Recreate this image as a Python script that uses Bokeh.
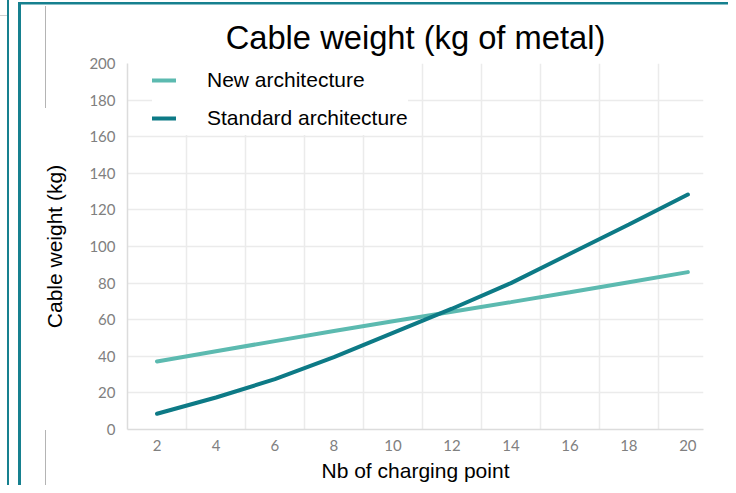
from bokeh.plotting import figure
from bokeh.models import Range1d, FixedTicker, Legend, LegendItem
from bokeh.embed import file_html
from bokeh.resources import INLINE

# ---- data ----
nb_points = [2, 4, 6, 8, 10, 12, 14, 16, 18, 20]
new_arch = [37.2, 42.8, 48.3, 53.8, 59.1, 64.3, 69.6, 75.0, 80.5, 86.0]
standard_arch = [8.6, 17.5, 27.5, 39.5, 52.8, 66.0, 80.0, 96.0, 112.0, 128.4]
x_ticks = [2, 4, 6, 8, 10, 12, 14, 16, 18, 20]
y_ticks = [0, 20, 40, 60, 80, 100, 120, 140, 160, 180, 200]
grid_x = [3, 5, 7, 9, 11, 13, 15, 17, 19]

title_text = "Cable weight (kg of metal)"
x_label = "Nb of charging point"
y_label = "Cable weight (kg)"
series_names = ["New architecture", "Standard architecture"]

NEW_COLOR = "#5cbab0"
STD_COLOR = "#0d7a86"
FRAME_COLOR = "#16808f"
TEXT_FONT = "Liberation Sans"
TICK_FONT = "Lato"

p = figure(width=728, height=485, output_backend="svg", toolbar_location=None,
           x_range=Range1d(1, 20.53), y_range=Range1d(0, 200),
           min_border_left=127, min_border_right=25,
           min_border_top=63, min_border_bottom=56)
p.outline_line_color = None
p.background_fill_color = "white"
p.border_fill_color = "white"
p.border_fill_alpha = 0.0

# slide frame decorations (page background behind the chart)
g = lambda c: "linear-gradient(%s,%s)" % (c, c)
p.styles = {
    "background": ", ".join([
        g(FRAME_COLOR) + " 7px 0px / 2px 100% no-repeat",
        g(FRAME_COLOR) + " 18px 2px / 3px 100% no-repeat",
        g(FRAME_COLOR) + " 18px 1.5px / 100% 2.5px no-repeat",
        g("#b4b4b4") + " 45px 6px / 1px 102px no-repeat",
        g("#b4b4b4") + " 45px 430px / 1px 100px no-repeat",
        g("#d0d0d0") + " 0px 15px / 7px 1px no-repeat",
        "white",
    ])
}

# title
p.title.text = title_text
p.title.align = "center"
p.title.text_font = TEXT_FONT
p.title.text_font_size = "32.7px"
p.title.text_font_style = "normal"
p.title.text_color = "black"
p.title.offset = 4
p.title.standoff = 15

# axes
p.xaxis.ticker = FixedTicker(ticks=x_ticks)
p.yaxis.ticker = FixedTicker(ticks=y_ticks)
for ax in (p.xaxis[0], p.yaxis[0]):
    ax.axis_line_color = "#dcdcdc"
    ax.axis_line_width = 1.5
    ax.major_tick_line_color = None
    ax.minor_tick_line_color = None
    ax.major_tick_out = 0
    ax.major_tick_in = 0
    ax.major_label_text_font = TICK_FONT
    ax.major_label_text_font_size = "15px"
    ax.major_label_text_color = "#808080"
    ax.axis_label_text_font = TEXT_FONT
    ax.axis_label_text_font_size = "21px"
    ax.axis_label_text_font_style = "normal"
    ax.axis_label_text_color = "black"
p.xaxis.axis_label = x_label
p.yaxis.axis_label = y_label
p.xaxis.major_label_standoff = 10
p.yaxis.major_label_standoff = 12
p.xaxis.axis_label_standoff = 5
p.yaxis.axis_label_standoff = 20

# grids
p.xgrid.ticker = FixedTicker(ticks=grid_x)
p.xgrid.grid_line_color = "#ebebeb"
p.xgrid.grid_line_width = 1.5
p.ygrid.grid_line_color = "#ebebeb"
p.ygrid.grid_line_width = 1.5

# lines
r_new = p.line(nb_points, new_arch, line_color=NEW_COLOR, line_width=4, line_cap="round")
r_std = p.line(nb_points, standard_arch, line_color=STD_COLOR, line_width=4, line_cap="round")

legend = Legend(items=[LegendItem(label=series_names[0], renderers=[r_new]),
                       LegendItem(label=series_names[1], renderers=[r_std])],
                location=(25, 294))
legend.glyph_width = 24
legend.glyph_height = 34
legend.label_height = 34
legend.spacing = 4
legend.padding = 0
legend.margin = 0
legend.label_standoff = 31
legend.label_text_font = TEXT_FONT
legend.label_text_font_size = "21px"
legend.label_text_color = "black"
legend.background_fill_color = "white"
legend.background_fill_alpha = 1.0
legend.border_line_color = None
p.add_layout(legend)

open("out.html", "w").write(file_html(p, INLINE))
